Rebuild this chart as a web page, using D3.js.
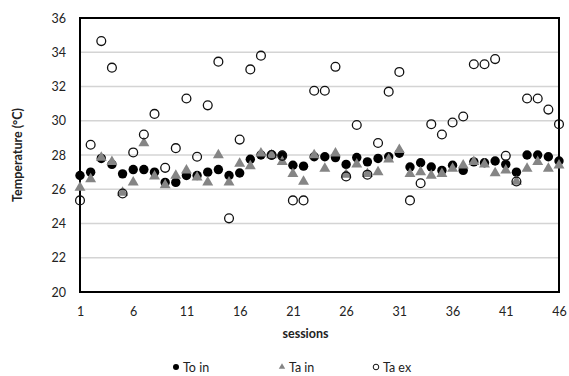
<!DOCTYPE html>
<html>
<head>
<meta charset="utf-8">
<script src="https://cdn.jsdelivr.net/npm/d3@7"></script>
<style>
  html, body { margin: 0; padding: 0; background: #fff; }
  svg { display: block; }
  text { font-family: Lato, "Liberation Sans", sans-serif; fill: #222; }
</style>
</head>
<body>
<div id="chart"></div>
<script>
// Session numbers and measured temperatures (°C)
const sessions = d3.range(1, 47);

const toIn = [26.8, 27.0, 27.8, 27.45, 26.9, 27.15, 27.15, 27.0, 26.4, 26.4,
              26.8, 26.8, 27.0, 27.15, 26.8, 26.95, 27.75, 28.0, 28.0, 28.0,
              27.4, 27.35, 27.9, 27.9, 27.85, 27.45, 27.85, 27.6, 27.8, 27.9,
              28.1, 27.3, 27.55, 27.3, 27.1, 27.4, 27.1, 27.6, 27.55, 27.65,
              27.45, 27.0, 28.0, 28.0, 27.9, 27.65];

const taIn = [26.1, 26.6, 27.85, 27.6, 25.8, 26.4, 28.7, 26.75, 26.25, 26.8,
              27.1, 26.7, 26.4, 28.0, 26.4, 27.5, 27.35, 28.1, 28.0, 27.6,
              26.9, 26.45, 28.0, 27.2, 28.1, 26.85, 27.45, 26.9, 27.0, 27.75,
              28.3, 26.9, 27.0, 26.8, 26.9, 27.2, 27.4, 27.6, 27.45, 26.95,
              27.1, 26.45, 27.2, 27.6, 27.2, 27.4];

const taEx = [25.35, 28.6, 34.65, 33.1, 25.75, 28.15, 29.2, 30.4, 27.25, 28.4,
              31.3, 27.9, 30.9, 33.45, 24.3, 28.9, 33.0, 33.8, 28.0, 27.95,
              25.35, 25.35, 31.75, 31.75, 33.15, 26.75, 29.75, 26.85, 28.7, 31.7,
              32.85, 25.35, 26.35, 29.8, 29.2, 29.9, 30.25, 33.3, 33.3, 33.6,
              27.95, 26.45, 31.3, 31.3, 30.65, 29.8];

const xTicks = [1, 6, 11, 16, 21, 26, 31, 36, 41, 46];
const yTicks = [20, 22, 24, 26, 28, 30, 32, 34, 36];
const seriesNames = ["To in", "Ta in", "Ta ex"];

const W = 569, H = 376;
const margin = { left: 80, right: 10, top: 18, bottom: 84 };

const svg = d3.select("#chart").append("svg")
  .attr("width", W).attr("height", H);

const x = d3.scaleLinear().domain([1, 46]).range([margin.left, W - margin.right]);
const y = d3.scaleLinear().domain([20, 36]).range([H - margin.bottom, margin.top]);

// Horizontal gridlines
svg.append("g")
  .selectAll("line")
  .data(yTicks.filter(t => t > 20 && t < 36))
  .join("line")
  .attr("x1", x(1)).attr("x2", x(46))
  .attr("y1", d => y(d)).attr("y2", d => y(d))
  .attr("stroke", "#d4d4d4").attr("stroke-width", 1.6);

// Y axis tick labels
const yAxis = d3.axisLeft(y).tickValues(yTicks).tickSize(0).tickPadding(14);
const gy = svg.append("g").attr("transform", `translate(${x(1)},0)`).call(yAxis);
gy.select(".domain").remove();
gy.selectAll("text").attr("font-size", 12.5).attr("font-family", "Lato, sans-serif").attr("fill", "#222");

// X axis tick labels
const xAxis = d3.axisBottom(x).tickValues(xTicks).tickSize(0).tickPadding(15);
const gx = svg.append("g").attr("transform", `translate(0,${y(20)})`).call(xAxis);
gx.select(".domain").remove();
gx.selectAll("text").attr("font-size", 12.5).attr("font-family", "Lato, sans-serif").attr("fill", "#222");

// Plot frame
svg.append("rect")
  .attr("x", x(1)).attr("y", y(36))
  .attr("width", x(46) - x(1)).attr("height", y(20) - y(36))
  .attr("fill", "none").attr("stroke", "#000").attr("stroke-width", 2);

// Axis titles
svg.append("text")
  .attr("transform", `translate(19,${(y(20) + y(36)) / 2}) rotate(-90)`)
  .attr("text-anchor", "middle").attr("dominant-baseline", "middle")
  .attr("font-size", 12.5).attr("font-weight", "bold")
  .text("Temperature (°C)");

svg.append("text")
  .attr("x", (x(1) + x(46)) / 2 - 14).attr("y", 338)
  .attr("text-anchor", "middle")
  .attr("font-size", 12.5).attr("font-weight", "bold")
  .text("sessions");

const tri = d3.symbol().type(d3.symbolTriangle).size(52);

// To in: filled black circles
svg.append("g").selectAll("circle")
  .data(sessions.map((s, i) => [s, toIn[i]]))
  .join("circle")
  .attr("cx", d => x(d[0])).attr("cy", d => y(d[1]))
  .attr("r", 4.7).attr("fill", "#000");

// Ta in: gray triangles
svg.append("g").selectAll("path")
  .data(sessions.map((s, i) => [s, taIn[i]]))
  .join("path")
  .attr("d", tri)
  .attr("transform", d => `translate(${x(d[0])},${y(d[1])})`)
  .attr("fill", "#858585");

// Ta ex: open circles
svg.append("g").selectAll("circle")
  .data(sessions.map((s, i) => [s, taEx[i]]))
  .join("circle")
  .attr("cx", d => x(d[0])).attr("cy", d => y(d[1]))
  .attr("r", 4.4).attr("fill", "none")
  .attr("stroke", "#111").attr("stroke-width", 1.3);

// Legend
const legY = 367;
const legX = [176, 282, 376];
const leg = svg.append("g");
leg.append("circle").attr("cx", legX[0]).attr("cy", legY).attr("r", 3).attr("fill", "#000");
leg.append("path").attr("d", d3.symbol().type(d3.symbolTriangle).size(18))
  .attr("transform", `translate(${legX[1]},${legY})`).attr("fill", "#858585");
leg.append("circle").attr("cx", legX[2]).attr("cy", legY).attr("r", 2.8)
  .attr("fill", "none").attr("stroke", "#111").attr("stroke-width", 1);
seriesNames.forEach((name, i) => {
  leg.append("text")
    .attr("x", legX[i] + 7).attr("y", legY)
    .attr("dominant-baseline", "central")
    .attr("font-size", 12.5)
    .text(name);
});
</script>
</body>
</html>
